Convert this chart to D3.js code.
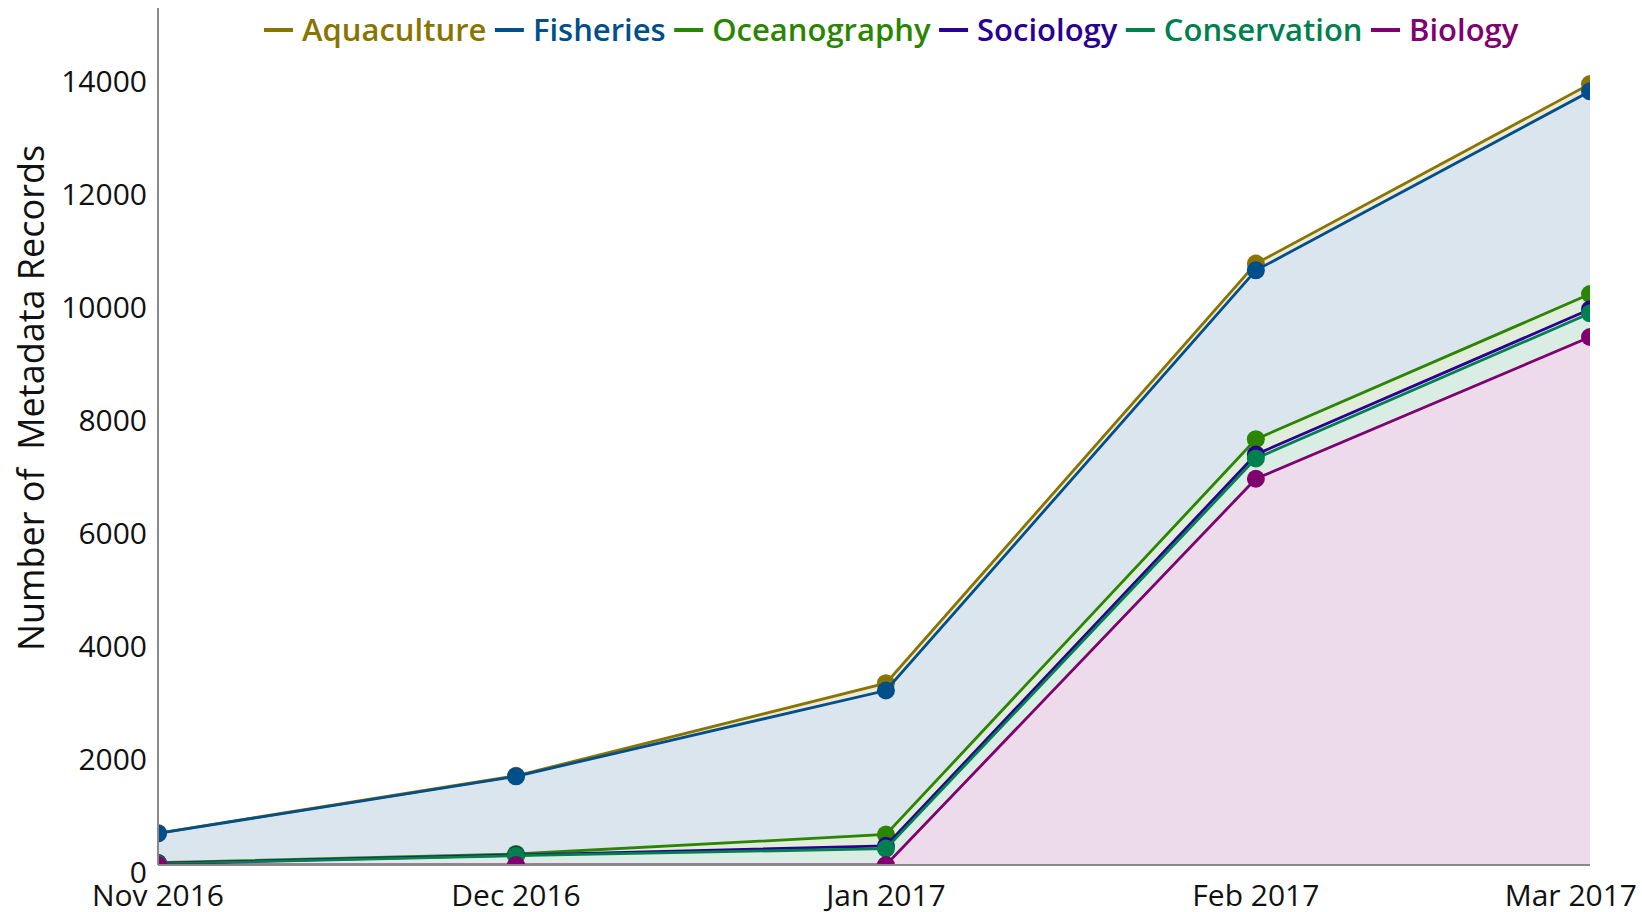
<!DOCTYPE html>
<html>
<head>
<meta charset="utf-8">
<script src="https://cdn.jsdelivr.net/npm/d3@7"></script>
<style>
	html, body { margin: 0; padding: 0; background: #fff; }
	svg { display: block; font-family: 'Open Sans', sans-serif; }
</style>
</head>
<body>
<svg id="chart"></svg>
<script>
const months = ['2016-11-01', '2016-12-01', '2017-01-01', '2017-02-01', '2017-03-01'];
const monthLabels = ['Nov 2016', 'Dec 2016', 'Jan 2017', 'Feb 2017', 'Mar 2017'];

// stacked bottom to top
const biology = [0, 0, 0, 6840, 9350];
const conservation = [20, 165, 290, 360, 420];
const sociology = [10, 10, 50, 70, 70];
const oceanography = [10, 20, 200, 270, 270];
const fisheries = [520, 1375, 2550, 2990, 3590];
const aquaculture = [5, 10, 130, 120, 130];

const yTicks = [0, 2000, 4000, 6000, 8000, 10000, 12000, 14000];

// legend order
const legendOrder = ['Aquaculture', 'Fisheries', 'Oceanography', 'Sociology', 'Conservation', 'Biology'];

const series = [
	{ name: 'Biology', values: biology, color: '#800070' },
	{ name: 'Conservation', values: conservation, color: '#00804f' },
	{ name: 'Sociology', values: sociology, color: '#2a0090' },
	{ name: 'Oceanography', values: oceanography, color: '#2b8500' },
	{ name: 'Fisheries', values: fisheries, color: '#004f8b' },
	{ name: 'Aquaculture', values: aquaculture, color: '#8a7400' }
];

const width = 1642;
const height = 912;
const margin = { left: 158, right: 52, top: 8, bottom: 47 };
const parse = d3.timeParse('%Y-%m-%d');

const $svg = d3.select('#chart').attr('width', width).attr('height', height);

const table = months.map((m, i) => {
	const row = { date: parse(m) };
	series.forEach(s => { row[s.name] = s.values[i]; });
	return row;
});
const stacked = d3.stack().keys(series.map(s => s.name))(table);

const x = d3.scaleTime()
	.domain([parse(months[0]), parse(months[months.length - 1])])
	.range([margin.left, width - margin.right]);
const y = d3.scaleLinear()
	.domain([0, 15176])
	.range([height - margin.bottom, margin.top]);

$svg.append('defs').append('clipPath').attr('id', 'plot-clip')
	.append('rect')
	.attr('x', margin.left)
	.attr('y', margin.top)
	.attr('width', width - margin.right - margin.left)
	.attr('height', height - margin.bottom - margin.top);

const $plot = $svg.append('g').attr('clip-path', 'url(#plot-clip)');

const area = d3.area()
	.x(d => x(d.data.date))
	.y0(d => y(d[0]))
	.y1(d => y(d[1]));
const line = d3.line()
	.x(d => x(d.data.date))
	.y(d => y(d[1]));

// fills first
$plot.selectAll('.band')
	.data(stacked)
	.enter()
	.append('path')
	.attr('class', 'band')
	.attr('d', area)
	.attr('fill', (d, i) => series[i].color)
	.attr('fill-opacity', 0.145);

// x axis line
$svg.append('line')
	.attr('x1', margin.left).attr('x2', width - margin.right)
	.attr('y1', y(0)).attr('y2', y(0))
	.attr('stroke', '#8a8a8a').attr('stroke-width', 2);

// lines + markers, top series first so lower ones sit on top
const $traces = $plot.selectAll('.trace')
	.data(stacked.slice().reverse())
	.enter()
	.append('g')
	.attr('class', 'trace');

$traces.append('path')
	.attr('d', line)
	.attr('fill', 'none')
	.attr('stroke', d => series[d.index].color)
	.attr('stroke-width', 2.8);

$traces.selectAll('circle')
	.data(d => d.map(p => ({ p, color: series[d.index].color })))
	.enter()
	.append('circle')
	.attr('cx', d => x(d.p.data.date))
	.attr('cy', d => y(d.p[1]))
	.attr('r', 9)
	.attr('fill', d => d.color);

// y axis
$svg.append('line')
	.attr('x1', margin.left).attr('x2', margin.left)
	.attr('y1', margin.top).attr('y2', y(0))
	.attr('stroke', '#8a8a8a').attr('stroke-width', 2);

$svg.selectAll('.ytick')
	.data(yTicks)
	.enter()
	.append('text')
	.attr('class', 'ytick')
	.attr('x', margin.left - 11)
	.attr('y', d => y(d) + 7)
	.attr('dy', '0.35em')
	.attr('text-anchor', 'end')
	.attr('font-size', 30)
	.attr('fill', '#111')
	.text(d => d);

$svg.selectAll('.xtick')
	.data(months)
	.enter()
	.append('text')
	.attr('class', 'xtick')
	.attr('x', d => x(parse(d)))
	.attr('y', 895)
	.attr('dy', '0.35em')
	.attr('text-anchor', 'middle')
	.attr('font-size', 30)
	.attr('fill', '#111')
	.text((d, i) => monthLabels[i])
	.each(function () {
		// keep labels inside the page
		const box = this.getBBox();
		if (box.x + box.width > width - 5) {
			d3.select(this).attr('x', +d3.select(this).attr('x') - (box.x + box.width - (width - 5)));
		}
	});

$svg.append('text')
	.attr('transform', `translate(31, 398) rotate(-90)`)
	.attr('dy', '0.35em')
	.attr('text-anchor', 'middle')
	.attr('font-size', 36)
	.attr('fill', '#111')
	.attr('xml:space', 'preserve')
	.style('white-space', 'pre')
	.text('Number of  Metadata Records');

// legend
const $legend = $svg.append('g').attr('class', 'legend');
let lx = 264;
legendOrder.forEach(name => {
	const s = series.find(d => d.name === name);
	$legend.append('line')
		.attr('x1', lx).attr('x2', lx + 29)
		.attr('y1', 30).attr('y2', 30)
		.attr('stroke', s.color).attr('stroke-width', 4);
	const $t = $legend.append('text')
		.attr('x', lx + 38)
		.attr('y', 30)
		.attr('dy', '0.35em')
		.attr('font-size', 31)
		.attr('font-weight', 600)
		.attr('fill', s.color)
		.text(name);
	lx += 38 + $t.node().getComputedTextLength() + 8.5;
});
</script>
</body>
</html>
